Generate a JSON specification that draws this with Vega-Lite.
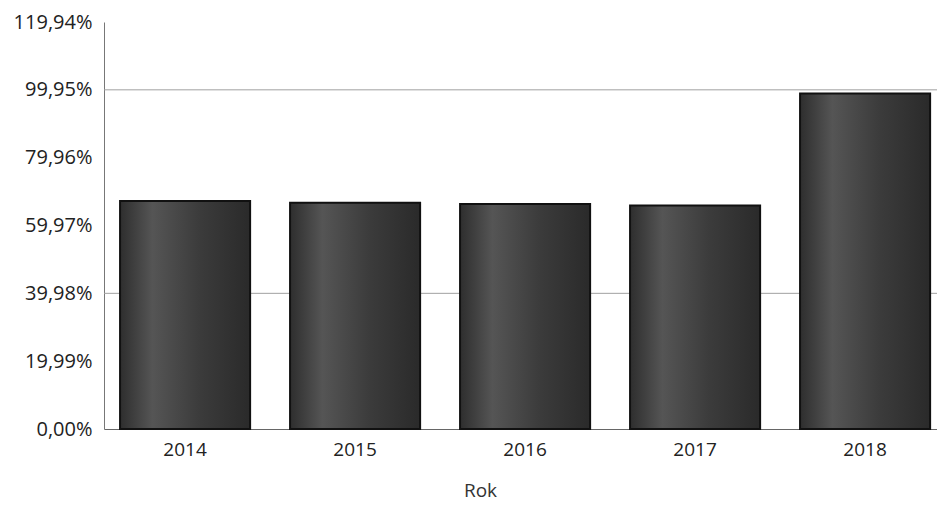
{
  "$schema": "https://vega.github.io/schema/vega-lite/v6.json",
  "width": 833,
  "height": 407,
  "padding": {"left": 104, "top": 22, "right": 0, "bottom": 77},
  "autosize": {"type": "none"},
  "background": "white",
  "config": {"view": {"stroke": null}, "font": "Open Sans"},
  "layer": [
    {
      "data": {"values": [{"g": 39.98}, {"g": 99.95}]},
      "mark": {"type": "rule", "color": "#a0a0a0", "strokeWidth": 1},
      "encoding": {
        "y": {"field": "g", "type": "quantitative", "scale": {"domain": [0, 119.94]}}
      }
    },
    {
      "data": {"values": [
        {"Rok": "2014", "v": 67.2},
        {"Rok": "2015", "v": 66.7},
        {"Rok": "2016", "v": 66.3},
        {"Rok": "2017", "v": 65.9},
        {"Rok": "2018", "v": 98.9}
      ]},
      "mark": {
        "type": "bar",
        "stroke": "#111111",
        "strokeWidth": 2,
        "fill": {
          "gradient": "linear", "x1": 0, "x2": 1, "y1": 0, "y2": 0,
          "stops": [
            {"offset": 0, "color": "#2e2e2e"},
            {"offset": 0.25, "color": "#555555"},
            {"offset": 0.6, "color": "#3c3c3c"},
            {"offset": 1, "color": "#2a2a2a"}
          ]
        }
      },
      "encoding": {
        "x": {
          "field": "Rok", "type": "nominal",
          "scale": {"paddingInner": 0.235, "paddingOuter": 0.0675, "align": 0.7},
          "axis": {
            "title": "Rok", "labelAngle": 0, "ticks": false,
            "labelFontSize": 19, "labelColor": "#222", "labelPadding": 11,
            "titleFontSize": 19, "titleFontWeight": "normal", "titleColor": "#333", "titlePadding": 22,
            "titleX": 376,
            "domainColor": "#666", "domainWidth": 1
          }
        },
        "y": {
          "field": "v", "type": "quantitative",
          "scale": {"domain": [0, 119.94]},
          "axis": {
            "title": null, "grid": false, "ticks": false,
            "values": [0, 19.99, 39.98, 59.97, 79.96, 99.95, 119.94],
            "labelExpr": "replace(format(datum.value, '.2f'), '.', ',') + '%'",
            "labelFontSize": 20, "labelColor": "#222", "labelPadding": 12,
            "domainColor": "#777", "domainWidth": 1
          }
        }
      }
    }
  ]
}
